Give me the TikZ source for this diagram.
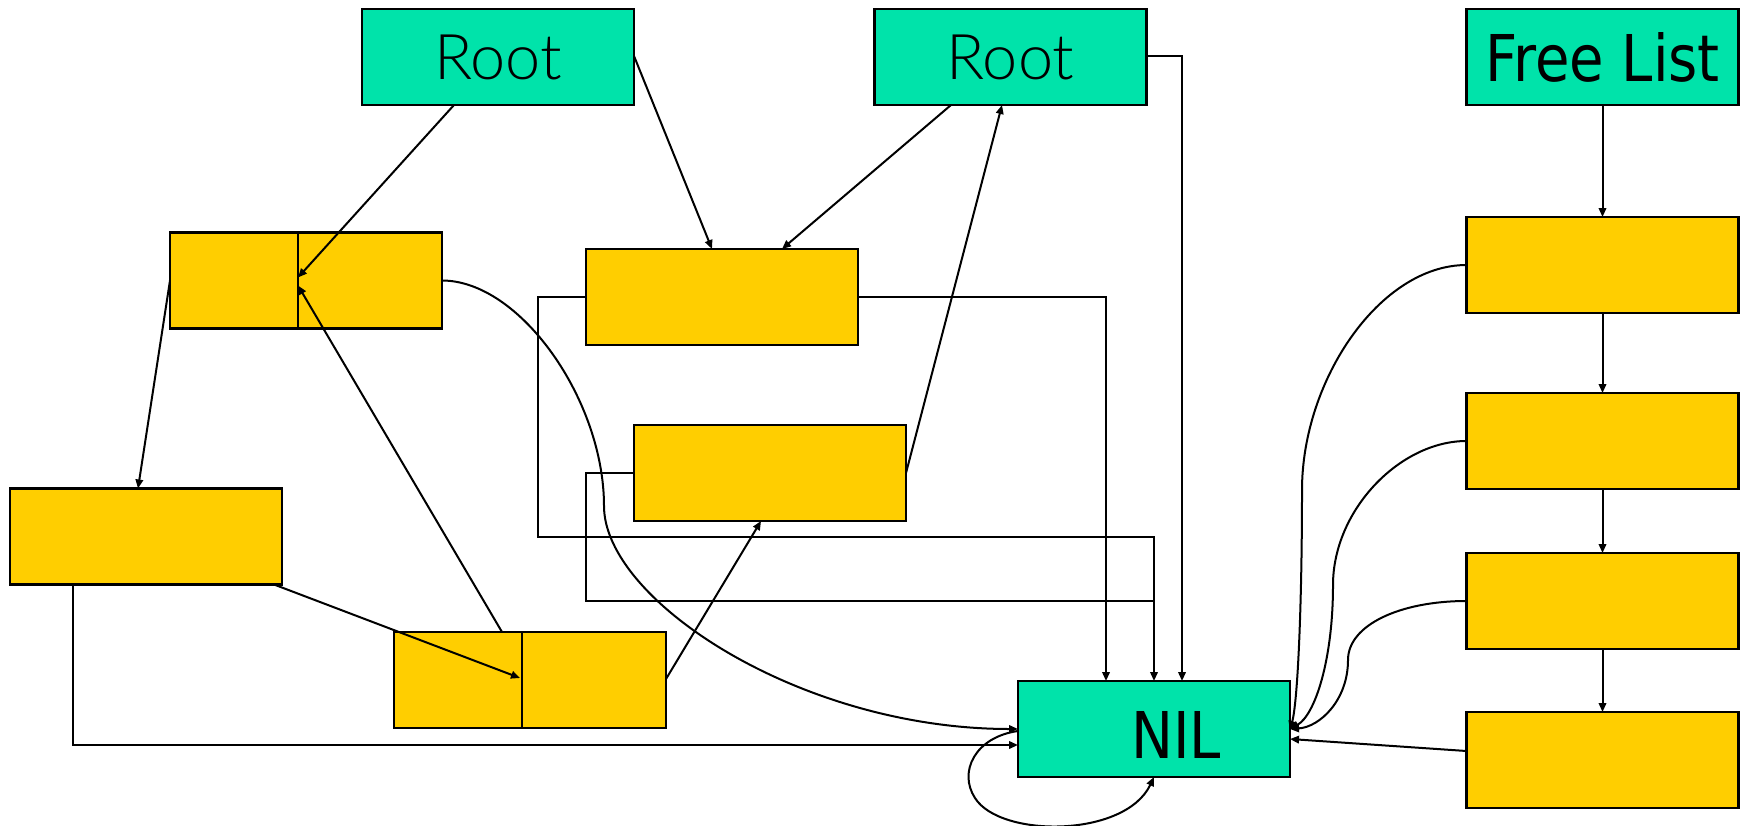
\documentclass[tikz,border=0pt]{standalone}
\usepackage{fontspec}
\usetikzlibrary{arrows.meta}
\newfontfamily\labelfont{DejaVu Sans}[FakeStretch=0.87]
\newfontfamily\rootfont{Lato Light}
\definecolor{nodegreen}{RGB}{0,227,170}
\definecolor{cellyellow}{RGB}{255,206,0}
\begin{document}
\begin{tikzpicture}[x=1pt,y=-1pt,
  cell/.style={draw, line width=2.4pt, minimum width=272pt, minimum height=96pt,
               inner sep=0pt, outer sep=0pt},
  anchorbox/.style={cell, fill=nodegreen},
  databox/.style={cell, fill=cellyellow},
  rootlabel/.style={font=\rootfont\fontsize{63pt}{70pt}\selectfont},
  biglabel/.style={font=\labelfont\fontsize{64.5pt}{72pt}\selectfont},
  link/.style={line width=2pt},
  ptr/.style={link, -{Triangle[length=9pt,width=7.5pt]}},
]
\useasboundingbox (0,0) rectangle (1745,825);

% roots, free list head and NIL
\node[anchorbox, rootlabel] (root1) at (498,57) {Root};
\node[anchorbox, rootlabel] (root2) at (1010.5,57) {Root};
\node[anchorbox, biglabel] (free) at (1602.5,57) {Free List};
\node[anchorbox] (nil) at (1154,729) {};
\node[biglabel, inner sep=0pt] (niltext) at ([xshift=22pt,yshift=-6pt]nil.center) {NIL};

% heap cells
\node[databox] (A) at (306,280.5) {};
\node[databox] (B) at (722,297) {};
\node[databox] (C) at (770,473) {};
\node[databox] (D) at (146,536.5) {};
\node[databox] (E) at (530,680) {};

% free cells
\node[databox] (F1) at (1602.5,265) {};
\node[databox] (F2) at (1602.5,441) {};
\node[databox] (F3) at (1602.5,601) {};
\node[databox] (F4) at (1602.5,760) {};

% two-field cells
\coordinate (Adiv) at ([xshift=-8pt]A.center);
\coordinate (Ediv) at ([xshift=-8pt]E.center);
\draw[line width=2.4pt] (A.north -| Adiv) -- (A.south -| Adiv);
\draw[line width=2.4pt] (E.north -| Ediv) -- (E.south -| Ediv);

% pointers from the roots
\draw[ptr] ([xshift=-44pt]root1.south) -- ([yshift=3pt]Adiv);
\draw[ptr] ([yshift=1pt]root1.east) -- ([xshift=-10pt]B.north);
\draw[ptr] ([xshift=-59.5pt]root2.south) -- ([xshift=60pt]B.north);
\draw[ptr] ([yshift=1pt]root2.east) -| ([xshift=28pt]nil.north);

% pointers between cells
\draw[ptr] ([xshift=-28pt]E.north) -- ([yshift=-5pt]Adiv);
\draw[ptr] (C.east) -- ([xshift=-8.5pt]root2.south);
\draw[ptr] (A.west) -- ([xshift=-8pt]D.north);
\draw[ptr] ([xshift=128pt]D.south) -- ([xshift=-2pt,yshift=2pt]Ediv);
\draw[ptr] ([yshift=1pt]E.east) -- ([xshift=-9pt]C.south);

% pointers into NIL
\draw[ptr] (B.east) -| ([xshift=-48pt]nil.north);
\draw[ptr] (B.west) -- ++(-48,0) -- ++(0,240) -| (nil.north);
\draw[link] (C.west) -- ++(-48,0) -- ++(0,128) -- ++(568,0);
\draw[ptr] (A.east) .. controls +(78,0) and (604,400) .. (604,506)
           .. controls (604,600) and (800,729) .. (nil.west);
\draw[ptr] ([xshift=-73pt]D.south) |- ([yshift=-16pt]nil.west);
\draw[ptr] ([yshift=-2pt]nil.west) .. controls (975,737) and (958,772) .. (975,798)
           .. controls (1000,838) and (1125,838) .. (nil.south);

% free list chain
\draw[ptr] (free) -- (F1);
\draw[ptr] (F1) -- (F2);
\draw[ptr] (F2) -- (F3);
\draw[ptr] (F3) -- (F4);
\draw[ptr] (F1.west) .. controls (1380,265) and (1302,380) .. (1302,490)
           .. controls (1302,600) and (1298,700) .. ([yshift=-1pt]nil.east);
\draw[ptr] (F2.west) .. controls (1400,441) and (1333,510) .. (1333,585)
           .. controls (1333,660) and (1315,715) .. (nil.east);
\draw[ptr] (F3.west) .. controls (1400,601) and (1348,625) .. (1348,660)
           .. controls (1348,700) and (1320,727) .. (nil.east);
\draw[ptr] ([yshift=9pt]F4.west) -- ([yshift=-10pt]nil.east);
\end{tikzpicture}
\end{document}
